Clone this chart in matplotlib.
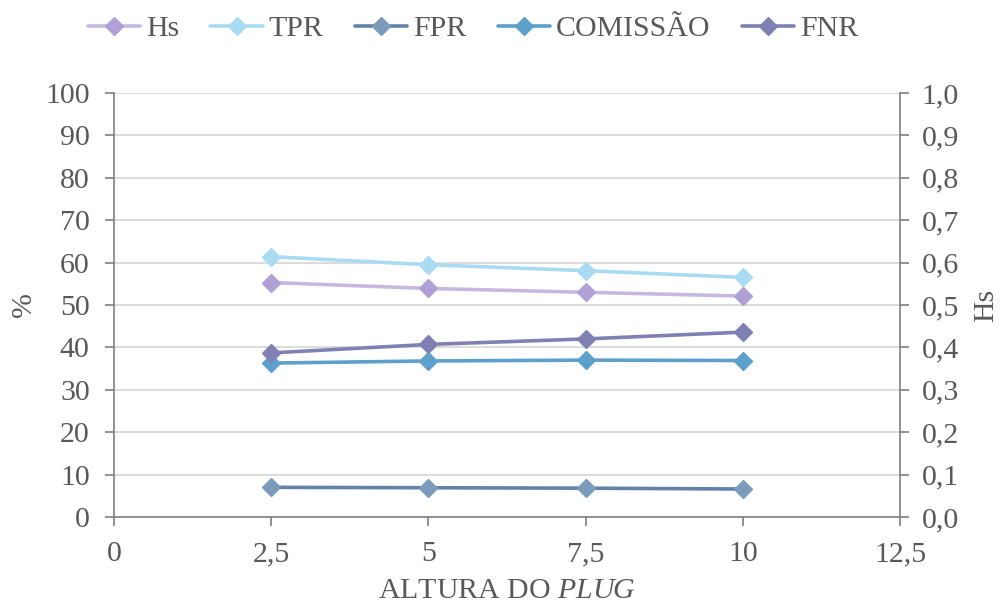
import matplotlib
matplotlib.use("Agg")
import matplotlib.pyplot as plt
from matplotlib.ticker import FuncFormatter, MultipleLocator

plt.rcParams['font.family'] = ['Liberation Serif', 'DejaVu Serif']
plt.rcParams['mathtext.fontset'] = 'custom'
plt.rcParams['mathtext.rm'] = 'Liberation Serif'
plt.rcParams['mathtext.it'] = 'Liberation Serif:italic'

# Plug heights and measured indices
altura = [2.5, 5, 7.5, 10]
hs = [0.553, 0.539, 0.530, 0.521]
tpr = [61.4, 59.5, 58.1, 56.5]
fpr = [7.0, 6.9, 6.8, 6.6]
comissao = [36.3, 36.8, 37.0, 36.9]
fnr = [38.7, 40.7, 42.0, 43.6]

x_ticks = [0, 2.5, 5, 7.5, 10, 12.5]

text_col = '#595959'
axis_col = '#7f7f7f'
grid_col = '#d9d9d9'
fs = 21.5

fig = plt.figure(figsize=(10.02, 6.05), dpi=100)
ax = fig.add_axes([114 / 1002, 1 - 517 / 605, (900 - 114) / 1002, (517 - 93) / 605])
ax2 = ax.twinx()

lw = 2.6
ms = 9
series = [
    ('Hs', ax2, hs, '#c7b8e2', '#b1a0d6'),
    ('TPR', ax, tpr, '#a9dcf3', '#a9dcf3'),
    ('FPR', ax, fpr, '#6382aa', '#7a9bba'),
    ('COMISSÃO', ax, comissao, '#5ea0cc', '#5ea0cc'),
    ('FNR', ax, fnr, '#7f81b4', '#7f81b4'),
]
handles = []
for name, a, vals, lc, mc in series:
    h, = a.plot(altura, vals, color=lc, lw=lw, marker='D', ms=ms,
                markerfacecolor=mc, markeredgecolor=mc, label=name,
                solid_capstyle='round', zorder=3)
    handles.append(h)

ax.set_xlim(0, 12.5)
ax.set_ylim(0, 100)
ax2.set_ylim(0, 1.0)
ax.set_xticks(x_ticks)
ax.yaxis.set_major_locator(MultipleLocator(10))
ax2.yaxis.set_major_locator(MultipleLocator(0.1))

comma = lambda v, p: ('%g' % v).replace('.', ',')
ax.xaxis.set_major_formatter(FuncFormatter(comma))
ax2.yaxis.set_major_formatter(FuncFormatter(lambda v, p: ('%.1f' % v).replace('.', ',')))

ax.grid(axis='y', color=grid_col, lw=1.3)
ax.set_axisbelow(True)

for a in (ax, ax2):
    a.spines['top'].set_visible(False)
    a.tick_params(colors=axis_col, labelcolor=text_col, labelsize=fs,
                  length=6.5, width=1.2, direction='out')
ax2.spines['left'].set_visible(False)
ax2.spines['bottom'].set_visible(False)
ax.spines['right'].set_visible(False)
for s in ('left', 'bottom'):
    ax.spines[s].set_color(axis_col)
    ax.spines[s].set_linewidth(1.2)
ax2.spines['right'].set_color(axis_col)
ax2.spines['right'].set_linewidth(1.2)
ax.tick_params(axis='y', pad=11)
ax2.tick_params(axis='y', pad=9)
ax.tick_params(axis='x', pad=11)

ax.set_ylabel('%', fontsize=fs, color=text_col, labelpad=6)
ax2.set_ylabel('Hs', fontsize=fs, color=text_col, labelpad=10)
ax.set_xlabel('ALTURA DO $\\mathit{PLUG}$', fontsize=fs, color=text_col, labelpad=8)

leg = fig.legend(handles=handles, loc='center', bbox_to_anchor=(473 / 1002, 1 - 29 / 605),
                 ncol=5, frameon=False, fontsize=fs, handlelength=1.75,
                 handletextpad=0.2, columnspacing=1.05, borderpad=0)
for t in leg.get_texts():
    t.set_color(text_col)

fig.savefig('out.png', dpi=100)
